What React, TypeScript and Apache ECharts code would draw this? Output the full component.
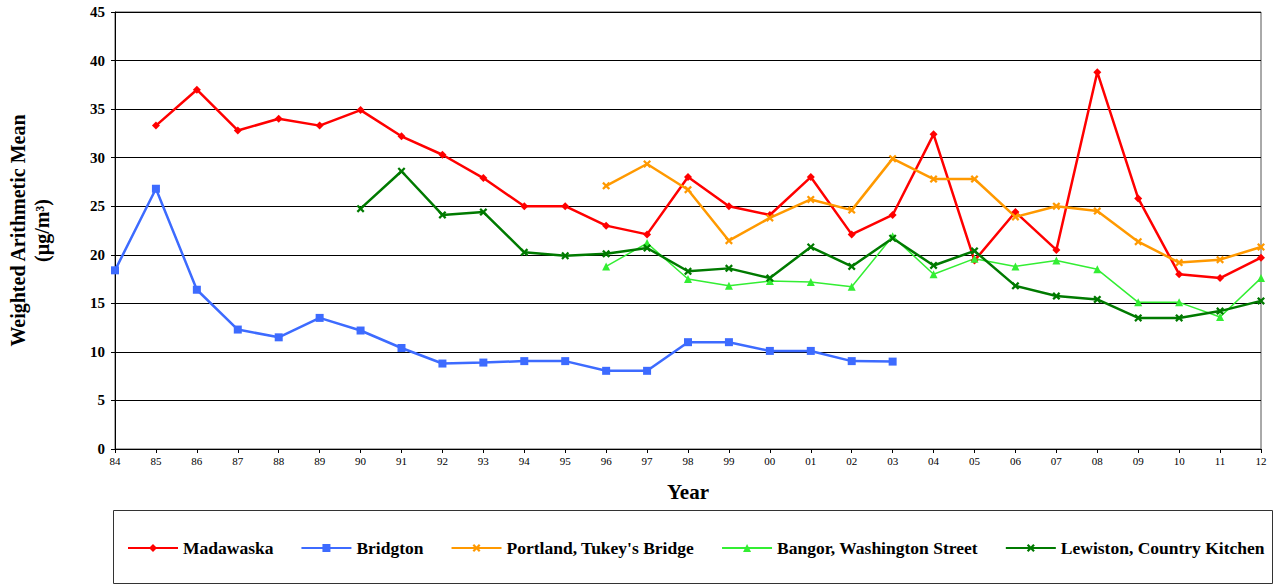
import React, { useEffect, useRef } from "react";
import * as echarts from "echarts";

const years = ["84","85","86","87","88","89","90","91","92","93","94","95","96","97","98","99","00","01","02","03","04","05","06","07","08","09","10","11","12"];

const madawaska = [null,33.3,37.0,32.8,34.0,33.3,34.9,32.2,30.3,27.9,25.0,25.0,23.0,22.1,28.0,25.0,24.1,28.0,22.1,24.1,32.4,19.4,24.4,20.5,38.8,25.8,18.0,17.6,19.7];
const bridgton = [18.4,26.8,16.4,12.3,11.5,13.5,12.2,10.4,8.8,8.9,9.05,9.05,8.05,8.05,11.0,11.0,10.1,10.1,9.05,9.0,null,null,null,null,null,null,null,null,null];
const portland = [null,null,null,null,null,null,null,null,null,null,null,null,27.1,29.35,26.7,21.45,23.8,25.7,24.6,29.9,27.8,27.8,23.9,25.0,24.5,21.35,19.2,19.5,20.8];
const bangor = [null,null,null,null,null,null,null,null,null,null,null,null,18.8,21.2,17.5,16.8,17.3,17.2,16.7,21.9,18.0,19.6,18.8,19.4,18.5,15.1,15.1,13.6,17.6];
const lewiston = [null,null,null,null,null,null,24.75,28.6,24.1,24.4,20.25,19.9,20.1,20.7,18.3,18.6,17.6,20.8,18.8,21.7,18.9,20.4,16.8,15.75,15.4,13.5,13.5,14.2,15.25];

const seriesNames = ["Madawaska","Bridgton","Portland, Tukey's Bridge","Bangor, Washington Street","Lewiston, Country Kitchen"];
const yTicks = { min: 0, max: 45, interval: 5 };

const starPath = "path://M2,0 L5,3 L8,0 L10,2 L7,5 L10,8 L8,10 L5,7 L2,10 L0,8 L3,5 L0,2 Z";

export default function App() {
  const ref = useRef<HTMLDivElement>(null);
  useEffect(() => {
    if (!ref.current) return;
    const chart = echarts.init(ref.current, undefined, { renderer: "svg" });
    const font = "'Liberation Serif', 'Times New Roman', serif";
    const mk = (name: string, data: (number|null)[], color: string, symbol: string, size: number, width: number) => ({
      name, type: "line", data, symbol, symbolSize: size, showSymbol: true,
      connectNulls: false,
      itemStyle: { color },
      lineStyle: { color, width },
    });
    chart.setOption({
      animation: false,
      backgroundColor: "#fff",
      textStyle: { fontFamily: font },
      grid: { left: 115, right: 17, top: 12, bottom: 137, show: true, borderColor: "#555", borderWidth: 1, containLabel: false, outerBoundsMode: "none" },
      xAxis: {
        type: "category", data: years, boundaryGap: false,
        name: "Year", nameLocation: "middle", nameGap: 32,
        nameTextStyle: { fontFamily: font, fontWeight: "bold", fontSize: 21, color: "#000" },
        axisLine: { lineStyle: { color: "#000", width: 1 } },
        axisTick: { show: true, length: 4, lineStyle: { color: "#000" }, alignWithLabel: true },
        axisLabel: { fontFamily: font, fontSize: 11, color: "#000", margin: 6, interval: 0 },
      },
      yAxis: {
        type: "value", min: yTicks.min, max: yTicks.max, interval: yTicks.interval,
        name: "Weighted Arithmetic Mean\n(µg/m³)", nameLocation: "middle", nameGap: 61, nameRotate: 90,
        nameTextStyle: { fontFamily: font, fontWeight: "bold", fontSize: 20, color: "#000", lineHeight: 24 },
        axisLine: { show: true, lineStyle: { color: "#000", width: 1 } },
        axisTick: { show: true, length: 4, lineStyle: { color: "#000" } },
        axisLabel: { fontFamily: font, fontWeight: "bold", fontSize: 15, color: "#000", margin: 10 },
        splitLine: { lineStyle: { color: "#000", width: 1 } },
      },
      legend: {
        left: 122, top: 534, itemWidth: 50, itemHeight: 10, itemGap: 27,
        data: seriesNames,
        textStyle: { fontFamily: font, fontWeight: "bold", fontSize: 17.5, color: "#000" },
      },
      graphic: [
        { type: "rect", shape: { x: 113.5, y: 510.5, width: 1159, height: 73 }, style: { fill: "none", stroke: "#333", lineWidth: 1 } },
      ],
      series: [
        mk(seriesNames[0], madawaska, "#FF0000", "diamond", 8, 2.5),
        mk(seriesNames[1], bridgton, "#3D6BFF", "rect", 8, 2.5),
        mk(seriesNames[2], portland, "#FF9900", starPath, 8, 2.5),
        mk(seriesNames[3], bangor, "#33EE33", "triangle", 8, 1.5),
        mk(seriesNames[4], lewiston, "#007A00", starPath, 8, 2.5),
      ],
    });
    return () => chart.dispose();
  }, []);
  return <div ref={ref} style={{ position: "fixed", left: 0, top: 0, width: 1278, height: 586 }} />;
}
